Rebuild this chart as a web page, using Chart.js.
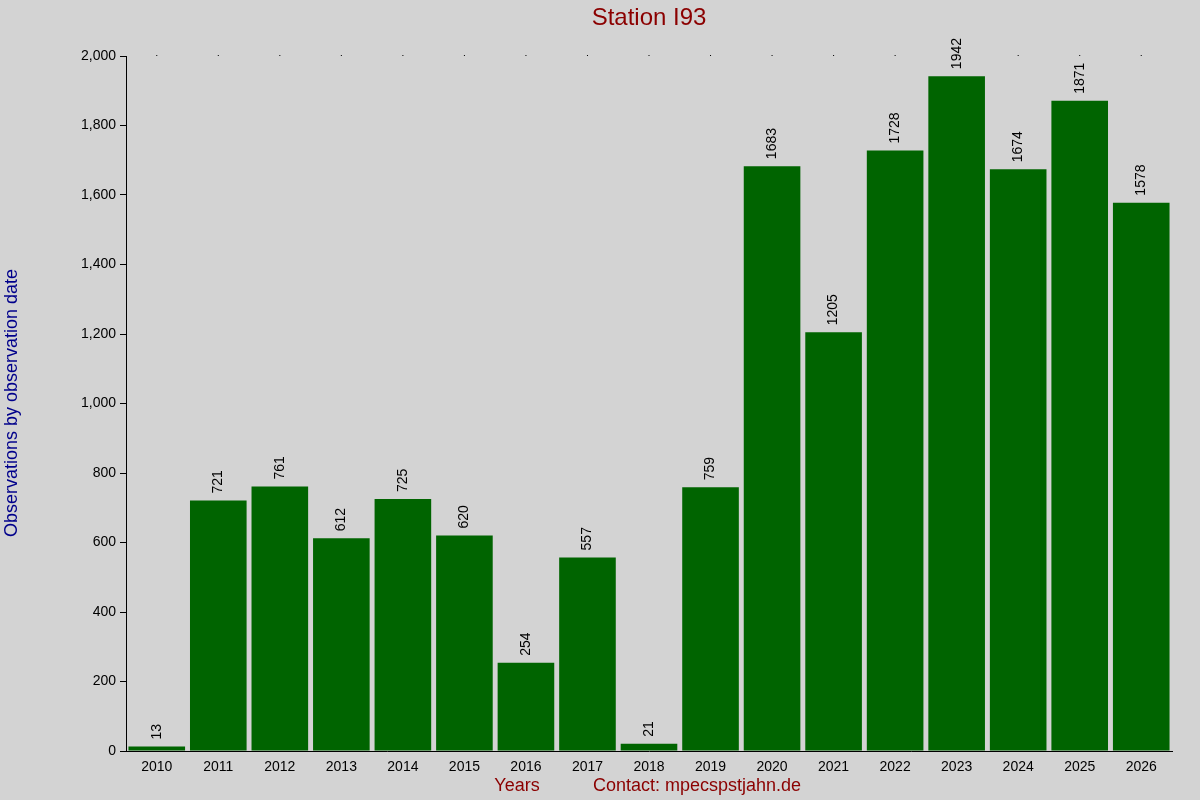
<!DOCTYPE html>
<html><head><meta charset="utf-8">
<script src="https://cdn.jsdelivr.net/npm/chart.js@4/dist/chart.umd.min.js"></script>
<style>html,body{margin:0;padding:0;background:#d3d3d3;}#wrap{width:1200px;height:800px;}</style>
</head><body><div id="wrap"><canvas id="c" width="1200" height="800"></canvas></div>
<script>
const years = ["2010","2011","2012","2013","2014","2015","2016","2017","2018","2019","2020","2021","2022","2023","2024","2025","2026"];
const counts = [13,721,761,612,725,620,254,557,21,759,1683,1205,1728,1942,1674,1871,1578];
const yTicks = [0,200,400,600,800,1000,1200,1400,1600,1800,2000];
const FONT = "'Liberation Sans', Arial, sans-serif";
const deco = {
  id:'deco',
  afterDatasetsDraw(chart){
    const ctx = chart.ctx, ca = chart.chartArea, meta = chart.getDatasetMeta(0);
    ctx.save();
    ctx.fillStyle='#000'; ctx.font='14px '+FONT; ctx.textAlign='left'; ctx.textBaseline='middle';
    meta.data.forEach((b,i)=>{
      ctx.save(); ctx.translate(b.x, b.y-7); ctx.rotate(-Math.PI/2);
      ctx.fillText(String(counts[i]),0,0); ctx.restore();
      ctx.fillRect(b.x-0.5, ca.top-1, 1, 1);
    });
    ctx.fillStyle='#8b0000'; ctx.textAlign='center';
    ctx.font='24px '+FONT; ctx.fillText('Station I93', 649, 18);
    ctx.font='18px '+FONT; ctx.fillText('Years', 517, 786); ctx.fillText('Contact: mpecspstjahn.de', 697, 786);
    ctx.fillStyle='#00008b';
    ctx.save(); ctx.translate(12,403); ctx.rotate(-Math.PI/2); ctx.fillText('Observations by observation date',0,0); ctx.restore();
    ctx.restore();
  }
};
new Chart(document.getElementById('c'),{
  type:'bar',
  data:{labels:years,datasets:[{data:counts,backgroundColor:'#006400',barPercentage:0.92,categoryPercentage:1}]},
  options:{
    responsive:false,animation:false,
    layout:{padding:{left:0,right:28,top:56,bottom:0}},
    plugins:{legend:{display:false},tooltip:{enabled:false}},
    scales:{
      x:{grid:{display:false,drawTicks:true,tickLength:6},border:{color:'#000'},
         ticks:{color:'#000',font:{family:FONT,size:14},maxRotation:0,padding:2},
         afterFit(s){s.height=49;}},
      y:{min:0,max:2000,afterBuildTicks(s){s.ticks=yTicks.map(v=>({value:v}));},
         grid:{display:true,drawOnChartArea:false,drawTicks:true,tickLength:6,color:'#000'},border:{color:'#000'},
         ticks:{color:'#000',font:{family:FONT,size:14},padding:4},
         afterFit(s){s.width=126;}}
    }
  },
  plugins:[deco]
});
</script></body></html>
